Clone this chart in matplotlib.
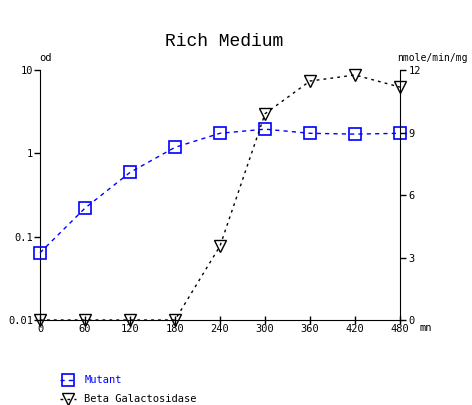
import matplotlib
matplotlib.use("Agg")
import matplotlib.pyplot as plt
import numpy as np

time_mn = [0, 60, 120, 180, 240, 300, 360, 420, 480]
mutant_od = [0.064, 0.22, 0.59, 1.18, 1.74, 1.95, 1.74, 1.70, 1.74]
beta_gal = [0, 0, 0, 0, 3.55, 9.9, 11.47, 11.76, 11.18]
x_ticks = [0, 60, 120, 180, 240, 300, 360, 420, 480]
left_ticks = [0.01, 0.1, 1, 10]
left_labels = ["0.01", "0.1", "1", "10"]
right_ticks = [0, 3, 6, 9, 12]

W, H = 472, 405
fig = plt.figure(figsize=(W / 100, H / 100), dpi=100)
font = "DejaVu Sans Mono"
fs = 7.5

ax = fig.add_axes([40 / W, (H - 320) / H, 360 / W, 250 / H])
ax2 = ax.twinx()

ax.set_yscale("log")
ax.set_ylim(0.01, 10)
ax.set_xlim(0, 480)
ax2.set_ylim(0, 12)

l1, = ax.plot(time_mn, mutant_od, color="blue", linestyle=(0, (3, 3)), linewidth=1,
              marker="s", markersize=8, markerfacecolor="none", markeredgecolor="blue",
              markeredgewidth=1.2, clip_on=False, zorder=3, label="Mutant")
l2, = ax2.plot(time_mn, beta_gal, color="black", linestyle=(0, (2, 3)), linewidth=1,
               marker="v", markersize=8, markerfacecolor="none", markeredgecolor="black",
               markeredgewidth=1.0, clip_on=False, zorder=3, label="Beta Galactosidase")

for a in (ax, ax2):
    a.spines["top"].set_visible(False)
    a.patch.set_visible(False)

ax.spines["right"].set_visible(False)
ax2.spines["left"].set_visible(False)
ax2.spines["bottom"].set_visible(False)

ax.set_xticks(x_ticks)
ax.set_xticklabels([str(t) for t in x_ticks], fontfamily=font, fontsize=fs)
ax.set_yticks(left_ticks)
ax.set_yticklabels(left_labels, fontfamily=font, fontsize=fs)
ax.yaxis.set_minor_locator(matplotlib.ticker.NullLocator())
ax2.set_yticks(right_ticks)
ax2.set_yticklabels([str(t) for t in right_ticks], fontfamily=font, fontsize=fs)
ax.tick_params(axis="both", length=4, width=1, pad=1)
ax2.tick_params(axis="y", length=4, width=1, pad=2)
ax.tick_params(axis="x", direction="inout", length=6, pad=0)

fig.text(224 / W, 1 - 41 / H, "Rich Medium", ha="center", va="center",
         fontfamily="Liberation Mono", fontsize=13)
fig.text(45 / W, 1 - 58 / H, "od", ha="center", va="center", fontfamily=font, fontsize=fs)
fig.text(397 / W, 1 - 58 / H, "nmole/min/mg", ha="left", va="center", fontfamily=font, fontsize=7)
fig.text(420 / W, 1 - 328 / H, "mn", ha="left", va="center", fontfamily=font, fontsize=fs)

leg = fig.legend(handles=[l1, l2], loc="upper left", bbox_to_anchor=(51 / W, 1 - 366 / H),
                 frameon=False, handlelength=1.5, handletextpad=0.8, labelspacing=0.85,
                 prop={"family": font, "size": fs}, labelcolor=["blue", "black"])

fig.savefig("out.png", dpi=100)
